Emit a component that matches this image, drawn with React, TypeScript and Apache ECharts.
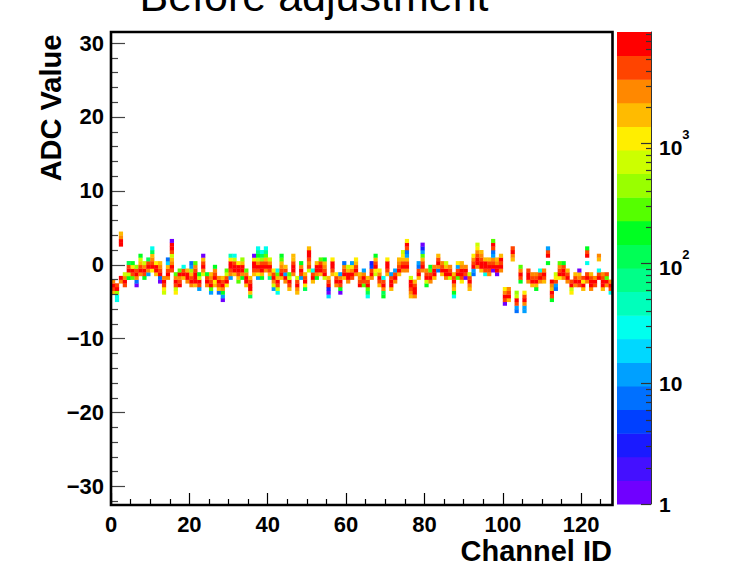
import React, { useEffect, useRef } from "react";
import * as echarts from "echarts";

const FONT = '"Liberation Sans", Arial, Helvetica, sans-serif';

const X_MIN = 0;
const X_MAX = 128;
const Y_MIN = -32.5;
const Y_MAX = 31.5;
const Y_BIN = 0.5;
const Z_MIN = 1;
const Z_MAX = 8400;
const N_CONTOURS = 20;

const titleText = "Before adjustment";
const xTitle = "Channel ID";
const yTitle = "ADC Value";

const xTickValues = [0, 20, 40, 60, 80, 100, 120];
const xMinorTickValues = [5, 10, 15, 25, 30, 35, 45, 50, 55, 65, 70, 75, 85, 90, 95, 105, 110, 115, 125];
const yTickValues = [-30, -20, -10, 0, 10, 20, 30];
const yMinorTickValues = [-32, -28, -26, -24, -22, -18, -16, -14, -12, -8, -6, -4, -2, 2, 4, 6, 8, 12, 14, 16, 18, 22, 24, 26, 28];
const zTickValues = [1, 10, 100, 1000];
const zMinorTickValues = [2, 3, 4, 5, 6, 7, 8, 9, 20, 30, 40, 50, 60, 70, 80, 90, 200, 300, 400, 500, 600, 700, 800, 900, 2000, 3000, 4000, 5000, 6000, 7000, 8000];

// palette, from the lowest contour (violet) to the highest (red)
const palette = [
  "#7000ff", "#4410ff", "#1a1aff", "#0040ff", "#0070ff",
  "#00a0ff", "#00d8ff", "#00ffee", "#00ffbb", "#00ff88",
  "#00ff55", "#00ff22", "#55ff00", "#99ff00", "#ccff00",
  "#ffee00", "#ffbb00", "#ff8800", "#ff4400", "#ff0000",
];

// lowest filled ADC bin (lower edge) of every channel
const channelBase = [
  -4, -5, -2.5, -3, -2, -2, -3, -1.5, -2, -1.5,
  -1, -1.5, -2.5, -4, -2, -1, -4, -3, -2, -2.5,
  -3, -3, -3.5, -1.5, -3, -4, -3, -4, -5, -3,
  -2, -1.5, -2.5, -2, -3, -4.5, -1.5, -2, -2, -1,
  -2, -3.5, -4, -2, -2.5, -3.5, -1.5, -4, -2, -3.5,
  -1, -2.5, -2, -1.5, -2, -4.5, -1.5, -3, -4, -2,
  -2.5, -2, -1.5, -3, -3, -4.5, -2, -1.5, -3, -4.5,
  -1.5, -3.5, -2.5, -1.5, -1, -1, -4.5, -4.5, -2, -1,
  -3, -2.5, -2, -1, -1.5, -2, -2, -4.5, -2, -2.5,
  -2, -3.5, -1.5, -0.5, -1, -1.5, -1.5, -1, -1.5, -1,
  -5.5, -5, 0.5, -6.5, -2.5, -6.5, -2.5, -3, -3.5, -2.5,
  -2.5, 0, -5, -3.5, -2, -2, -2.5, -4, -3, -3,
  -3.5, -2.5, -3.5, -3, -2, -3.5, -3, -4,
];

// entries per 0.5 ADC bin, going upward from channelBase
const channelCounts = [
  [1800, 4400, 6700, 2800],
  [31, 31, 470, 6700, 4400],
  [2800, 6700, 0, 0, 0, 0, 0, 0, 0, 0, 6700, 6700, 2800, 1800],
  [4400, 6700, 2800, 730],
  [190, 730, 6700, 4400, 120],
  [300, 4400, 6700, 1150, 190],
  [1, 8, 2800, 6700, 4400, 470],
  [2800, 6700, 4400, 1800, 730, 190],
  [190, 4400, 6700, 2800, 730],
  [13, 2800, 6700, 4400, 120],
  [1150, 6700, 4400, 2800, 1800, 120, 31],
  [1800, 6700, 6700, 1150],
  [1, 8, 6700, 4400, 2800, 1800],
  [730, 1150, 4400, 6700, 2800],
  [2800, 6700, 4400, 1800, 20, 8],
  [4400, 6700, 2800, 1800, 730, 4400, 6700, 6700, 1],
  [1150, 730, 4400, 6700, 2800, 300],
  [6700, 4400, 2800, 6700, 300],
  [1800, 6700, 4400, 31],
  [2800, 6700, 6700, 1800],
  [2800, 6700, 4400, 1800, 470, 10, 8],
  [1800, 6700, 6700, 6700, 4400, 2800, 300],
  [10, 4400, 6700, 730, 190],
  [730, 2800, 6700, 4400, 1800, 1],
  [2800, 6700, 4400, 190],
  [13, 300, 6700, 4400, 2800, 1800],
  [1800, 1150, 6700, 4400, 2800, 190],
  [8, 1800, 4400, 6700, 2800],
  [1, 10, 190, 2800, 6700, 4400, 1800],
  [1150, 6700, 4400, 730, 300],
  [10, 2800, 4400, 6700, 6700, 1150, 50],
  [1800, 6700, 6700, 4400, 730, 31],
  [300, 1800, 4400, 6700, 6700, 1150],
  [190, 2800, 6700, 6700, 1800, 470],
  [1800, 6700, 6700, 2800, 300],
  [120, 1800, 6700, 6700, 4400, 1800],
  [1800, 4400, 6700, 6700, 1150, 1],
  [13, 1150, 4400, 6700, 2800, 730, 190, 77, 31],
  [190, 1800, 6700, 6700, 4400, 470, 120, 31],
  [2800, 6700, 4400, 1800, 300, 77, 31],
  [77, 1800, 4400, 6700, 2800, 730],
  [10, 730, 2800, 6700, 4400, 1150],
  [31, 730, 4400, 6700, 1800, 300, 31],
  [1800, 6700, 4400, 2800, 1800, 300, 190],
  [2800, 6700, 10, 4400, 1800],
  [1800, 4400, 6700, 730, 300],
  [2800, 6700, 6700, 4400, 1800, 1800],
  [1800, 2800, 6700, 4400, 730],
  [10, 4400, 6700, 2800, 190],
  [120, 1150, 6700, 4400, 1800],
  [730, 4400, 2800, 4400, 6700, 6700, 1800],
  [1800, 6700, 4400, 31],
  [190, 2800, 6700, 6700, 1800],
  [1800, 6700, 6700, 4400, 300],
  [730, 6700, 4400, 2800, 1800, 190],
  [20, 1, 3, 6700, 4400, 1800],
  [1800, 4400, 6700, 6700, 1150],
  [2800, 6700, 4400, 1150],
  [1, 190, 4400, 6700, 2800, 10],
  [1800, 6700, 4400, 2800, 8],
  [2800, 6700, 6700, 1800, 730],
  [4400, 6700, 2800, 1150, 13],
  [2800, 6700, 4400, 1800, 1150],
  [6700, 4400, 2800, 1800],
  [300, 4400, 6700, 2800, 10],
  [31, 120, 300, 6700, 4400, 1800],
  [2800, 6700, 4400, 5, 3],
  [730, 1150, 6700, 4400, 1800, 190],
  [1800, 4400, 6700, 2800, 1150],
  [190, 120, 2800, 6700, 4400, 31],
  [1800, 4400, 6700, 6700, 1150],
  [1800, 6700, 6700, 4400, 10],
  [2800, 6700, 4400, 13],
  [1800, 6700, 4400, 2800, 1800],
  [2800, 6700, 4400, 1800, 1150, 730],
  [2800, 6700, 4400, 1800, 10, 8, 4400, 6700, 1150],
  [1800, 2800, 4400, 6700, 6700, 730],
  [2800, 6700, 6700, 4400, 1800],
  [1800, 6700, 4400, 8, 10],
  [2800, 6700, 4400, 1800, 300, 10, 3, 1],
  [190, 730, 6700, 4400, 2800],
  [2800, 6700, 4400, 300, 190],
  [1800, 6700, 6700, 2800],
  [8, 2800, 6700, 4400, 1800],
  [1800, 6700, 4400, 2800],
  [2800, 6700, 6700, 1800, 730],
  [730, 6700, 4400, 2800],
  [31, 190, 1800, 2800, 6700, 4400, 1800],
  [300, 6700, 4400, 10, 1150],
  [1150, 4400, 6700, 6700, 2800, 1800],
  [1, 4400, 6700, 2800],
  [1800, 2800, 6700, 4400, 730],
  [8, 10, 6700, 4400, 2800, 1150],
  [2800, 6700, 6700, 4400, 2800, 1150, 730],
  [1800, 6700, 6700, 4400, 2800, 1800],
  [31, 4400, 6700, 6700, 1800],
  [2800, 4400, 6700, 4400, 1800],
  [1, 6700, 4400, 2800, 10, 8, 4400, 6700, 300],
  [1, 6700, 6700, 2800, 1800],
  [2800, 6700, 4400, 6700, 1800],
  [1, 4400, 6700, 2800, 1150],
  [1800, 6700, 4400, 2800],
  [1800, 2800, 6700, 4400],
  [8, 13, 4400, 6700, 730, 470],
  [190, 4400, 6700, 2800, 300],
  [10, 13, 2800, 6700, 4400, 1150],
  [2800, 6700, 6700, 4400],
  [1800, 6700, 4400, 2800],
  [190, 1800, 6700, 4400, 2800],
  [2800, 6700, 4400, 31],
  [1800, 4400, 6700, 2800],
  [190, 0, 6700, 4400, 10],
  [190, 4400, 6700, 1800, 2800, 6700],
  [8, 10, 4400, 1150, 730],
  [1150, 6700, 4400, 2800, 300],
  [2800, 6700, 6700, 4400, 190],
  [2800, 6700, 4400, 1800],
  [1150, 730, 6700, 4400],
  [2800, 6700, 4400, 1800],
  [4400, 6700, 2800, 1800, 1],
  [1800, 6700, 1150, 4400],
  [2800, 6700, 4400, 0, 0, 31, 0, 6700, 4400, 190],
  [2800, 6700, 6700, 4400, 1800],
  [4400, 6700, 2800],
  [6700, 4400, 31, 0, 0, 1800, 2800],
  [1800, 6700, 6700, 4400, 2800],
  [2800, 6700, 300, 4400],
  [31, 4400, 6700, 2800],
];

function buildCells(): number[][] {
  const cells: number[][] = [];
  channelCounts.forEach((counts, ch) => {
    counts.forEach((n, i) => {
      if (n > 0) cells.push([ch, channelBase[ch] + i * Y_BIN, n]);
    });
  });
  return cells;
}

const LOG_MAX = Math.log10(Z_MAX) - Math.log10(Z_MIN);

function bandOf(z: number): number {
  const b = Math.floor(((Math.log10(z) - Math.log10(Z_MIN)) / LOG_MAX) * N_CONTOURS);
  return Math.max(0, Math.min(N_CONTOURS - 1, b));
}

function zLabel(v: number): string {
  if (Math.abs(v - 1) < 1e-6) return "1";
  if (Math.abs(v - 10) < 1e-6) return "10";
  const e = Math.round(Math.log10(v));
  return `{b|10}{s|${e}}`;
}

export default function App() {
  const ref = useRef<HTMLDivElement>(null);

  useEffect(() => {
    if (!ref.current) return;
    const chart = echarts.init(ref.current, undefined, { renderer: "svg" });
    const cells = buildCells();
    const bands = palette.map((_, k) => [k]);

    const labelStyle = {
      fontFamily: FONT,
      fontWeight: "bold" as const,
      fontSize: 22,
      color: "#000",
    };
    const noLine = { show: false, onZero: false };

    const option: any = {
      animation: false,
      backgroundColor: "#fff",
      grid: [
        { left: 111, right: 142.5, top: 32, bottom: 62, show: false },
        { left: 617, right: 104, top: 32, bottom: 63, show: false },
      ],
      xAxis: [
        {
          type: "value", gridIndex: 0, min: X_MIN, max: X_MAX, position: "bottom", z: 10,
          axisLine: noLine,
          splitLine: { show: false },
          axisTick: { show: true, inside: true, length: 12, customValues: xTickValues, lineStyle: { color: "#000", width: 1.2 } },
          axisLabel: { ...labelStyle, margin: 8, customValues: xTickValues },
        },
        {
          type: "value", gridIndex: 0, min: X_MIN, max: X_MAX, position: "bottom", offset: 0, z: 10,
          axisLine: noLine,
          splitLine: { show: false },
          axisTick: { show: true, inside: true, length: 6, customValues: xMinorTickValues, lineStyle: { color: "#000", width: 1.2 } },
          axisLabel: { show: false },
        },
        {
          type: "value", gridIndex: 1, min: 0, max: 1, show: false, axisLine: noLine,
        },
      ],
      yAxis: [
        {
          type: "value", gridIndex: 0, min: Y_MIN, max: Y_MAX, position: "left", z: 10,
          axisLine: noLine,
          splitLine: { show: false },
          axisTick: { show: true, inside: true, length: 14, customValues: yTickValues, lineStyle: { color: "#444", width: 1.2 } },
          axisLabel: {
            ...labelStyle, margin: 7, customValues: yTickValues,
            formatter: (v: number) => (v < 0 ? "\u2212" + Math.abs(v) : String(v)),
          },
        },
        {
          type: "value", gridIndex: 0, min: Y_MIN, max: Y_MAX, position: "left", offset: 0, z: 10,
          axisLine: noLine,
          splitLine: { show: false },
          axisTick: { show: true, inside: true, length: 7, customValues: yMinorTickValues, lineStyle: { color: "#444", width: 1.2 } },
          axisLabel: { show: false },
        },
        {
          type: "log", logBase: 10, gridIndex: 1, min: Z_MIN, max: Z_MAX, position: "right", z: 10,
          axisLine: { show: true, onZero: false, lineStyle: { color: "#333", width: 1 } },
          splitLine: { show: false },
          axisTick: { show: true, inside: true, length: 10, customValues: zTickValues, lineStyle: { color: "#333", width: 1.2 } },
          axisLabel: {
            ...labelStyle, fontSize: 21, margin: 8, customValues: zTickValues,
            formatter: zLabel,
            rich: {
              b: { fontFamily: FONT, fontWeight: "bold", fontSize: 21, color: "#000", verticalAlign: "bottom", lineHeight: 30 },
              s: { fontFamily: FONT, fontWeight: "bold", fontSize: 13, color: "#000", verticalAlign: "top", lineHeight: 30 },
            },
          },
        },
        {
          type: "log", logBase: 10, gridIndex: 1, min: Z_MIN, max: Z_MAX, position: "right", offset: 0, z: 10,
          axisLine: noLine,
          splitLine: { show: false },
          axisTick: { show: true, inside: true, length: 5, customValues: zMinorTickValues, lineStyle: { color: "#333", width: 1.2 } },
          axisLabel: { show: false },
        },
      ],
      series: [
        {
          type: "custom",
          xAxisIndex: 0,
          yAxisIndex: 0,
          clip: true,
          z: 1,
          encode: { x: 0, y: 1 },
          data: cells,
          renderItem: (params: any, api: any) => {
            const x = api.value(0);
            const y = api.value(1);
            const z = api.value(2);
            const p0 = api.coord([x, y + Y_BIN]);
            const p1 = api.coord([x + 1, y]);
            return {
              type: "rect",
              shape: { x: p0[0], y: p0[1], width: p1[0] - p0[0] + 0.3, height: p1[1] - p0[1] + 0.3 },
              style: { fill: palette[bandOf(z)], stroke: null },
            };
          },
        },
        {
          type: "custom",
          xAxisIndex: 2,
          yAxisIndex: 2,
          z: 1,
          encode: { x: [], y: [] },
          data: bands,
          renderItem: (params: any, api: any) => {
            const k = api.value(0);
            const lo = Math.pow(10, Math.log10(Z_MIN) + (k * LOG_MAX) / N_CONTOURS);
            const hi = Math.pow(10, Math.log10(Z_MIN) + ((k + 1) * LOG_MAX) / N_CONTOURS);
            const p0 = api.coord([0, hi]);
            const p1 = api.coord([1, lo]);
            return {
              type: "rect",
              shape: { x: p0[0], y: p0[1], width: p1[0] - p0[0], height: p1[1] - p0[1] + 0.5 },
              style: { fill: palette[k], stroke: null },
            };
          },
        },
      ],
      graphic: [
        {
          type: "rect",
          z: 100,
          shape: { x: 111, y: 32, width: 501.5, height: 473 },
          style: { fill: "none", stroke: "#000", lineWidth: 2.6 },
        },
        {
          type: "text",
          x: 314,
          y: -4,
          style: {
            text: titleText, fontFamily: FONT, fontSize: 43, fontWeight: "normal", fill: "#000",
            align: "center", verticalAlign: "middle", textAlign: "center", textVerticalAlign: "middle",
          },
        },
        {
          type: "text",
          x: 51,
          y: 108,
          rotation: Math.PI / 2,
          style: {
            text: yTitle, fontFamily: FONT, fontSize: 29, fontWeight: "bold", fill: "#000",
            align: "center", verticalAlign: "middle", textAlign: "center", textVerticalAlign: "middle",
          },
        },
        {
          type: "text",
          x: 612,
          y: 551,
          style: {
            text: xTitle, fontFamily: FONT, fontSize: 29, fontWeight: "bold", fill: "#000",
            align: "right", verticalAlign: "middle", textAlign: "right", textVerticalAlign: "middle",
          },
        },
      ],
    };

    chart.setOption(option);
    return () => chart.dispose();
  }, []);

  return (
    <div
      ref={ref}
      style={{ position: "fixed", left: 0, top: 0, width: 755, height: 567, background: "#fff" }}
    />
  );
}
